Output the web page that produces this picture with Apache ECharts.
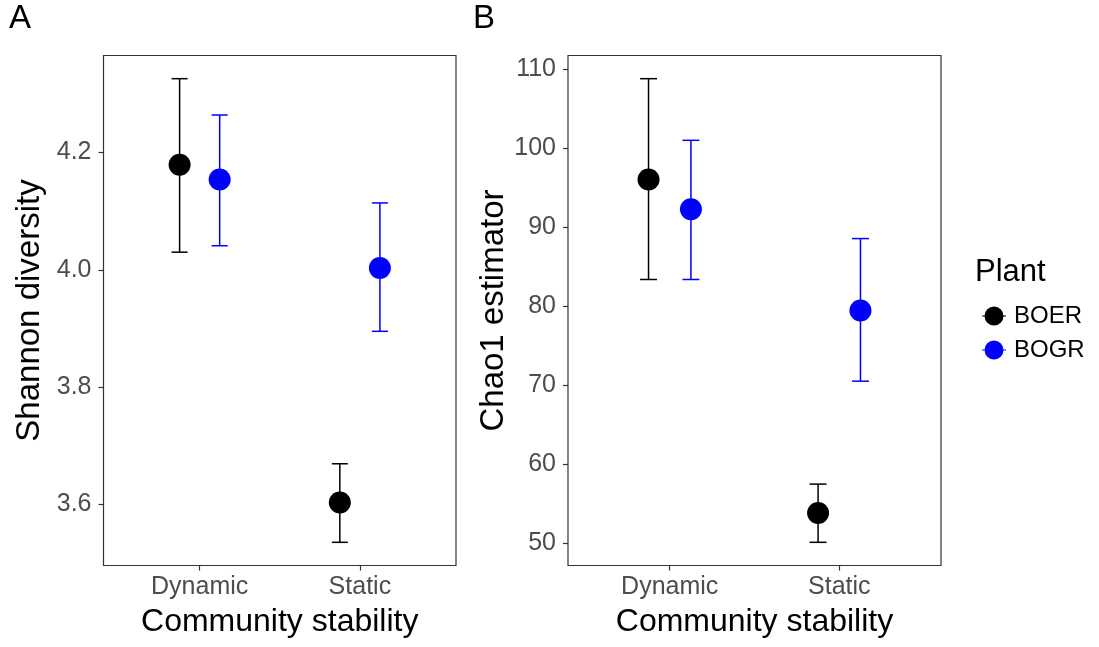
<!DOCTYPE html>
<html>
<head>
<meta charset="utf-8">
<script src="https://cdn.jsdelivr.net/npm/echarts@6/dist/echarts.min.js"></script>
<style>
html,body{margin:0;padding:0;background:#fff;}
#chart{width:1099px;height:647px;}
</style>
</head>
<body>
<div id="chart"></div>
<script>
// ---- data ----
var categories = ['Dynamic', 'Static'];
var plants = ['BOER', 'BOGR'];
var plantColors = ['#000000', '#0000FF'];

var shannonMeanBOER = [4.179, 3.603];
var shannonLowBOER  = [4.030, 3.535];
var shannonHighBOER = [4.326, 3.669];
var shannonMeanBOGR = [4.154, 4.003];
var shannonLowBOGR  = [4.041, 3.895];
var shannonHighBOGR = [4.264, 4.114];

var chaoMeanBOER = [96.05, 53.83];
var chaoLowBOER  = [83.4, 50.13];
var chaoHighBOER = [108.82, 57.5];
var chaoMeanBOGR = [92.29, 79.48];
var chaoLowBOGR  = [83.4, 70.53];
var chaoHighBOGR = [101.02, 88.58];

var shannonTicks = [3.6, 3.8, 4.0, 4.2];
var chaoTicks = [50, 60, 70, 80, 90, 100, 110];

// ---- helpers ----
var FONT = 'Liberation Sans, Arial, sans-serif';
var DODGE = 0.125;
var CAP = 0.05;

function expandRange(lows, highs) {
  var lo = Math.min.apply(null, lows), hi = Math.max.apply(null, highs);
  var pad = (hi - lo) * 0.05;
  return [lo - pad, hi + pad];
}

function rows(means, lows, highs, offset) {
  return means.map(function (m, i) { return [i + 1 + offset, m, lows[i], highs[i]]; });
}

var shRange = expandRange(shannonLowBOER.concat(shannonLowBOGR), shannonHighBOER.concat(shannonHighBOGR));
var chRange = expandRange(chaoLowBOER.concat(chaoLowBOGR), chaoHighBOER.concat(chaoHighBOGR));

var panels = [
  { title: 'Shannon diversity', ticks: shannonTicks, range: shRange, dec: 1,
    sets: [rows(shannonMeanBOER, shannonLowBOER, shannonHighBOER, -DODGE),
           rows(shannonMeanBOGR, shannonLowBOGR, shannonHighBOGR, DODGE)] },
  { title: 'Chao1 estimator', ticks: chaoTicks, range: chRange, dec: 0,
    sets: [rows(chaoMeanBOER, chaoLowBOER, chaoHighBOER, -DODGE),
           rows(chaoMeanBOGR, chaoLowBOGR, chaoHighBOGR, DODGE)] }
];

var grids = [
  { left: 103.5, top: 55.5, width: 352.5, height: 510 },
  { left: 568, top: 55.5, width: 373, height: 510 }
];

var xAxes = [], yAxes = [], series = [];
panels.forEach(function (p, gi) {
  grids[gi].show = true;
  grids[gi].borderColor = '#333333';
  grids[gi].borderWidth = 1.2;
  grids[gi].backgroundColor = '#ffffff';
  xAxes.push({
    type: 'value', gridIndex: gi, min: 0.4, max: 2.6,
    axisLine: { show: false },
    splitLine: { show: false },
    axisTick: { show: true, customValues: [1, 2], length: 5, lineStyle: { color: '#333333', width: 1.2 } },
    axisLabel: { show: true, customValues: [1, 2], margin: 9, color: '#4D4D4D', fontSize: 25, fontFamily: FONT,
      formatter: function (v) { return categories[Math.round(v) - 1]; } },
    name: 'Community stability', nameLocation: 'middle', nameGap: 41,
    nameTextStyle: { color: '#000', fontSize: 32, fontFamily: FONT }
  });
  yAxes.push({
    type: 'value', gridIndex: gi, min: p.range[0], max: p.range[1],
    axisLine: { show: false },
    splitLine: { show: false },
    axisTick: { show: true, customValues: p.ticks, length: 5, lineStyle: { color: '#333333', width: 1.2 } },
    axisLabel: { show: true, customValues: p.ticks, margin: 12, color: '#4D4D4D', fontSize: 25, fontFamily: FONT,
      formatter: (function (d) { return function (v) { return v.toFixed(d); }; })(p.dec) },
    name: p.title, nameLocation: 'middle', nameGap: 57,
    nameTextStyle: { color: '#000', fontSize: 33, fontFamily: FONT }
  });
  p.sets.forEach(function (data, si) {
    series.push({
      type: 'custom', name: plants[si], xAxisIndex: gi, yAxisIndex: gi, z: 2,
      data: data, silent: true,
      renderItem: (function (color) {
        return function (params, api) {
          var x = api.value(0), lo = api.value(2), hi = api.value(3);
          var top = api.coord([x, hi]), bot = api.coord([x, lo]);
          var l1 = api.coord([x - CAP, hi]), r1 = api.coord([x + CAP, hi]);
          var l2 = api.coord([x - CAP, lo]), r2 = api.coord([x + CAP, lo]);
          var st = { stroke: color, lineWidth: 1.5 };
          return { type: 'group', children: [
            { type: 'line', shape: { x1: top[0], y1: top[1], x2: bot[0], y2: bot[1] }, style: st },
            { type: 'line', shape: { x1: l1[0], y1: l1[1], x2: r1[0], y2: r1[1] }, style: st },
            { type: 'line', shape: { x1: l2[0], y1: l2[1], x2: r2[0], y2: r2[1] }, style: st }
          ] };
        };
      })(plantColors[si]),
      encode: { x: 0, y: 1 }
    });
  });
  p.sets.forEach(function (data, si) {
    series.push({
      type: 'scatter', name: plants[si], xAxisIndex: gi, yAxisIndex: gi, z: 5,
      data: data.map(function (r) { return [r[0], r[1]]; }),
      symbol: 'circle', symbolSize: 22,
      itemStyle: { color: plantColors[si], opacity: 1 },
      emphasis: { disabled: true }
    });
  });
});

var legendIcon = 'path://M0,9.4 L24,9.4 L24,10.6 L0,10.6 Z M2.5,10 A9.5,9.5 0 1,1 21.5,10 A9.5,9.5 0 1,1 2.5,10 Z';

var option = {
  backgroundColor: '#ffffff',
  animation: false,
  grid: grids,
  xAxis: xAxes,
  yAxis: yAxes,
  series: series,
  legend: {
    orient: 'vertical', left: 977, top: 299,
    itemWidth: 24, itemHeight: 20, itemGap: 10,
    textStyle: { color: '#000', fontSize: 24, fontFamily: FONT, lineHeight: 24, padding: [0, 0, 0, 3] },
    data: plants.map(function (n, i) { return { name: n, icon: legendIcon, itemStyle: { color: plantColors[i] } }; })
  },
  graphic: [
    { type: 'text', left: 975, top: 257, style: { text: 'Plant', fontSize: 31, fontFamily: FONT, fill: '#000' } },
    { type: 'text', left: 9, top: 2, style: { text: 'A', fontSize: 33, fontFamily: FONT, fill: '#000' } },
    { type: 'text', left: 473, top: 2, style: { text: 'B', fontSize: 33, fontFamily: FONT, fill: '#000' } }
  ]
};

var chart = echarts.init(document.getElementById('chart'), null, { renderer: 'canvas' });
chart.setOption(option);
</script>
</body>
</html>
